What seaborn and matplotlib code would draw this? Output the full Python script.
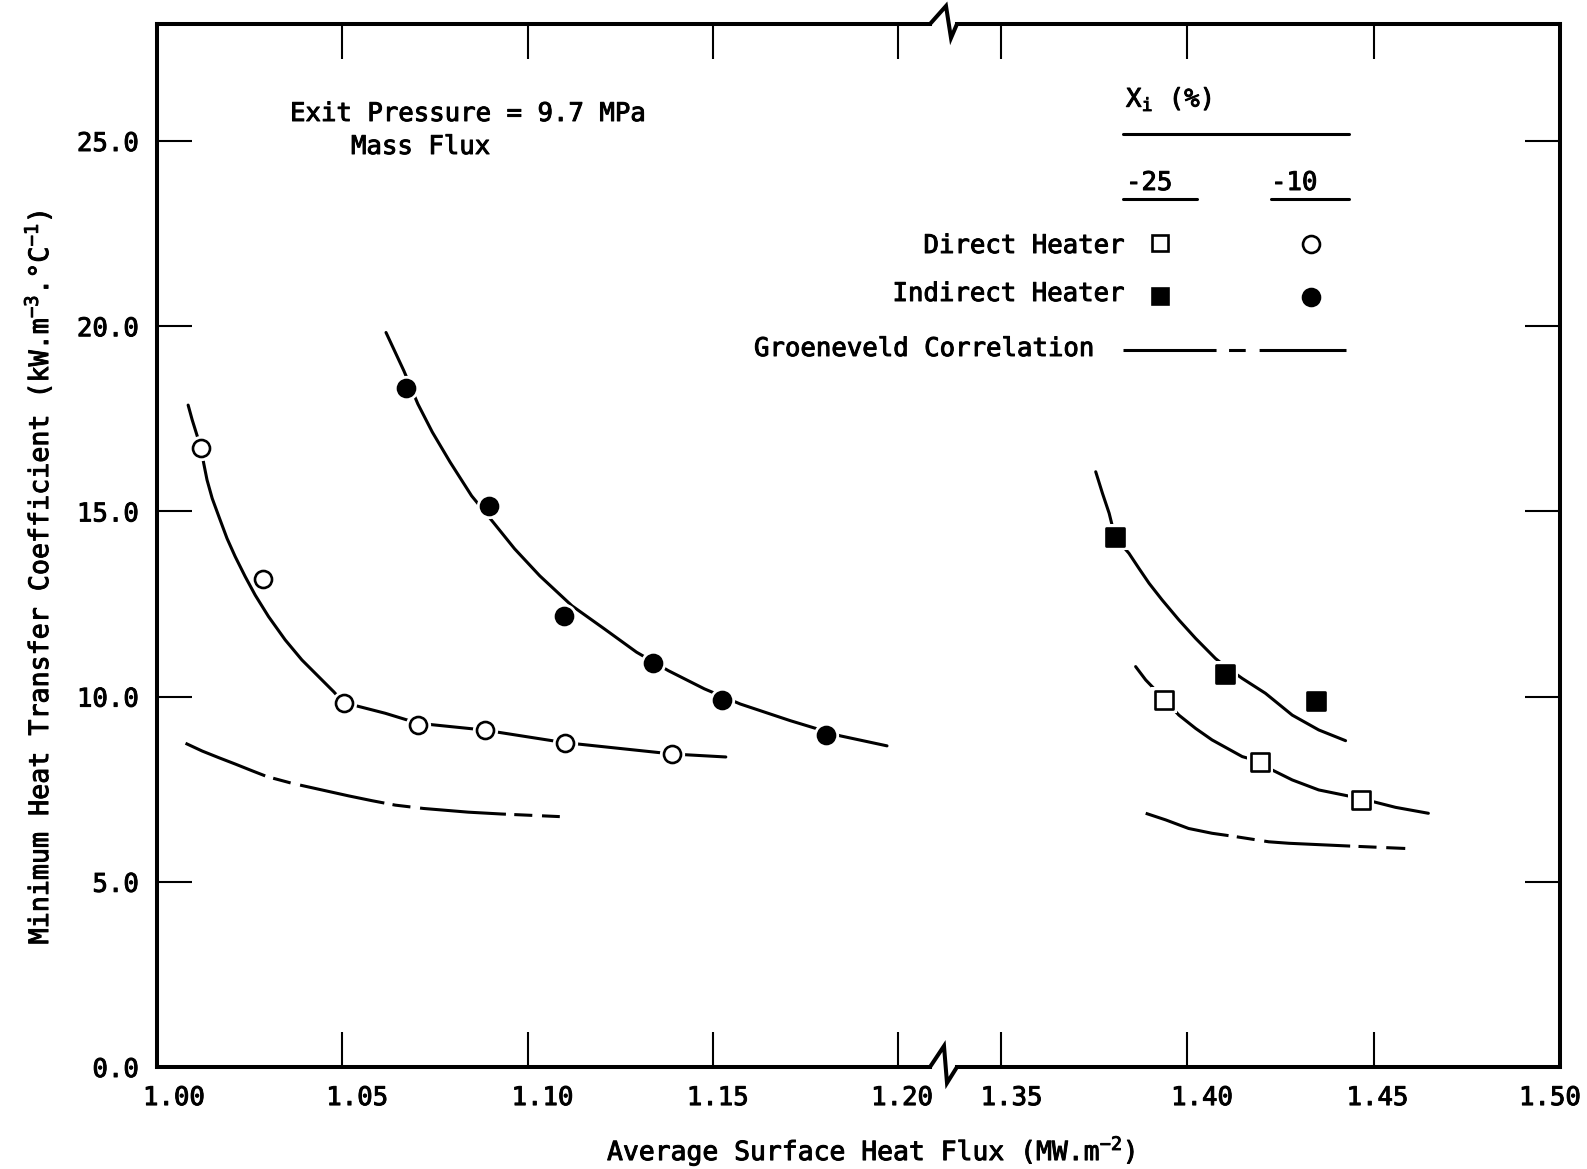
import matplotlib
matplotlib.use("Agg")
import matplotlib.pyplot as plt
import matplotlib.patheffects as pe
import matplotlib.text as mtext
from matplotlib.transforms import ScaledTranslation
import seaborn as sns
from matplotlib.lines import Line2D

# ---------------- data ----------------
# Direct heater, Xi = -10 % (open circles)
direct_m10_x = [1.0120, 1.0286, 1.0505, 1.0704, 1.0884, 1.1102, 1.1391]
direct_m10_y = [16.70, 13.18, 9.82, 9.24, 9.11, 8.75, 8.45]
# Indirect heater, Xi = -10 % (filled circles)
indirect_m10_x = [1.0673, 1.0897, 1.1099, 1.1339, 1.1524, 1.1805]
indirect_m10_y = [18.34, 15.14, 12.17, 10.91, 9.92, 8.97]
# Direct heater, Xi = -25 % (open squares)
direct_m25_x = [1.3938, 1.4195, 1.4467]
direct_m25_y = [9.92, 8.23, 7.22]
# Indirect heater, Xi = -25 % (filled squares)
indirect_m25_x = [1.3808, 1.4103, 1.4347]
indirect_m25_y = [14.30, 10.61, 9.87]

# hand-drawn fitted curves
fit_direct_m10_x = [1.0084, 1.0095, 1.0119, 1.0126, 1.0135, 1.0149, 1.0167, 1.0189,
                    1.0211, 1.0238, 1.0265, 1.0301, 1.0346, 1.0391, 1.0436, 1.0477,
                    1.0503, 1.0616, 1.0704, 1.0881, 1.1098, 1.1391, 1.1535]
fit_direct_m10_y = [17.87, 17.47, 16.70, 16.30, 15.85, 15.35, 14.86, 14.27,
                    13.78, 13.24, 12.74, 12.16, 11.53, 10.99, 10.54, 10.13,
                    9.84, 9.55, 9.28, 9.10, 8.76, 8.45, 8.37]
fit_indirect_m10_x = [1.0618, 1.0666, 1.0704, 1.0743, 1.0791, 1.0849, 1.0907, 1.0965,
                      1.1033, 1.1120, 1.1207, 1.1294, 1.1380, 1.1477, 1.1574, 1.1709,
                      1.1844, 1.1970]
fit_indirect_m10_y = [19.83, 18.80, 17.90, 17.14, 16.33, 15.42, 14.71, 13.99,
                      13.26, 12.45, 11.83, 11.20, 10.70, 10.21, 9.80, 9.35,
                      8.94, 8.67]
fit_indirect_m25_x = [1.3755, 1.3773, 1.3791, 1.3807, 1.3844, 1.3871, 1.3898, 1.3933,
                      1.3978, 1.4023, 1.4076, 1.4103, 1.4148, 1.4210, 1.4282, 1.4353, 1.4425]
fit_indirect_m25_y = [16.07, 15.49, 14.95, 14.30, 13.87, 13.46, 13.06, 12.61,
                      12.07, 11.57, 11.03, 10.81, 10.49, 10.09, 9.50, 9.10, 8.81]
fit_direct_m25_x = [1.3862, 1.3889, 1.3911, 1.3938, 1.3978, 1.4023, 1.4067, 1.4148,
                    1.4197, 1.4228, 1.4282, 1.4353, 1.4465, 1.4559, 1.4647]
fit_direct_m25_y = [10.81, 10.45, 10.22, 9.93, 9.50, 9.14, 8.83, 8.38,
                    8.24, 8.02, 7.75, 7.48, 7.25, 7.01, 6.85]

# Groeneveld correlation
groen_left_x = [1.0077, 1.0122, 1.0167, 1.0211, 1.0256, 1.0297, 1.0364, 1.0454,
                1.0517, 1.0580, 1.0643, 1.0719, 1.0840, 1.0930, 1.1087]
groen_left_y = [8.74, 8.53, 8.35, 8.18, 8.00, 7.84, 7.66, 7.46,
                7.32, 7.19, 7.07, 6.98, 6.88, 6.83, 6.76]
groen_right_x = [1.3889, 1.3943, 1.4004, 1.4067, 1.4130, 1.4219, 1.4273, 1.4425, 1.4585]
groen_right_y = [6.85, 6.67, 6.44, 6.31, 6.22, 6.08, 6.04, 5.97, 5.90]

y_ticks = [0.0, 5.0, 10.0, 15.0, 20.0, 25.0]
y_ticklabels = ["0.0", "5.0", "10.0", "15.0", "20.0", "25.0"]
x_ticks_left = [1.00, 1.05, 1.10, 1.15, 1.20]
x_ticklabels_left = ["1.00", "1.05", "1.10", "1.15", "1.20"]
x_ticks_right = [1.35, 1.40, 1.45, 1.50]
x_ticklabels_right = ["1.35", "1.40", "1.45", "1.50"]

# typed-label nudges (pixels), as in the typewritten original
x_label_nudge_left = [17, 15, 15, 5, 4]
x_label_nudge_right = [11, 15, 4, -10]

# ---------------- style ----------------
sns.set_style("white")
plt.rcParams["font.family"] = ["DejaVu Sans Mono", "DejaVu Sans"]
plt.rcParams["mathtext.fontset"] = "custom"
plt.rcParams["mathtext.rm"] = "DejaVu Sans Mono"
plt.rcParams["mathtext.it"] = "DejaVu Sans Mono"
plt.rcParams["mathtext.bf"] = "DejaVu Sans Mono:bold"
plt.rcParams["lines.scale_dashes"] = False
for k in ("text.color", "axes.labelcolor", "xtick.color", "ytick.color"):
    plt.rcParams[k] = "black"

FS = 18.5
W, H = 1587, 1169
fig = plt.figure(figsize=(W / 100, H / 100), dpi=100)


def fx(px):
    return px / W


def fy(py):
    return 1 - py / H


L, BRK_L, BRK_R, R = 157, 930, 957, 1560
TOP, BOT = 24, 1067
ax1 = fig.add_axes([fx(L), fy(BOT), fx(BRK_L - L), (BOT - TOP) / H])
ax2 = fig.add_axes([fx(BRK_R), fy(BOT), fx(R - BRK_R), (BOT - TOP) / H], sharey=ax1)

ymax = (BOT - TOP) / 37.04
ax1.set_xlim(1.0, 1.2086)
ax2.set_xlim(1.3383, 1.50)
ax1.set_ylim(0, ymax)

LW = 2.2
SPINE = 2.9
DASH = (0, (62, 6, 13, 7))

for ax in (ax1, ax2):
    for s in ax.spines.values():
        s.set_linewidth(SPINE)
        s.set_color("black")
    ax.tick_params(direction="in", length=25, width=1.5, color="black",
                   labelcolor="black", labelsize=FS, top=True, bottom=True, pad=13)
    ax.grid(False)
    ax.set_facecolor("white")

ax1.spines["right"].set_visible(False)
ax2.spines["left"].set_visible(False)
ax1.tick_params(axis="y", left=True, right=False)
ax2.tick_params(axis="y", left=False, right=True, labelleft=False, labelright=False)
ax1.set_yticks(y_ticks)
ax1.set_yticklabels(y_ticklabels)
ax1.set_xticks(x_ticks_left)
ax1.set_xticklabels(x_ticklabels_left)
ax2.set_xticks(x_ticks_right)
ax2.set_xticklabels(x_ticklabels_right)


def curve(ax, x, y, ls="-"):
    sns.lineplot(x=x, y=y, ax=ax, color="black", linewidth=LW, linestyle=ls,
                 estimator=None, sort=False, zorder=2)


def points(ax, x, y, marker, filled):
    sns.scatterplot(x=x, y=y, ax=ax, marker=marker, s=330, color="white",
                    linewidth=0, zorder=3)
    sns.scatterplot(x=x, y=y, ax=ax, marker=marker, s=150,
                    color="black" if filled else "white", edgecolor="black",
                    linewidth=1.9, zorder=4)


curve(ax1, fit_direct_m10_x, fit_direct_m10_y)
curve(ax1, fit_indirect_m10_x, fit_indirect_m10_y)
curve(ax1, groen_left_x, groen_left_y, DASH)
points(ax1, direct_m10_x, direct_m10_y, "o", False)
points(ax1, indirect_m10_x, indirect_m10_y, "o", True)

curve(ax2, fit_indirect_m25_x, fit_indirect_m25_y)
curve(ax2, fit_direct_m25_x, fit_direct_m25_y)
curve(ax2, groen_right_x, groen_right_y, DASH)
points(ax2, direct_m25_x, direct_m25_y, "s", False)
points(ax2, indirect_m25_x, indirect_m25_y, "s", True)

for ax in (ax1, ax2):
    ax.set_xlabel("")
    ax.set_ylabel("")
    if ax.get_legend() is not None:
        ax.get_legend().remove()

# nudge the typed x tick labels
for ax, nudges in ((ax1, x_label_nudge_left), (ax2, x_label_nudge_right)):
    for lab, dx in zip(ax.get_xticklabels(), nudges):
        lab.set_transform(lab.get_transform() + ScaledTranslation(dx / 100, 0, fig.dpi_scale_trans))

# ---------------- axis breaks ----------------
for base, pts in ((BOT, [(BRK_L, 0), (944, -21), (947, 16), (BRK_R, 0)]),
                  (TOP, [(BRK_L, 0), (946, -18), (951, 14), (BRK_R, 0)])):
    fig.add_artist(Line2D([fx(p[0]) for p in pts], [fy(base + p[1]) for p in pts],
                          transform=fig.transFigure, color="black",
                          linewidth=SPINE, solid_joinstyle="miter"))

# ---------------- labels ----------------
fig.text(fx(38), fy(578), r"Minimum Heat Transfer Coefficient (kW.m$^{-3}$.°C$^{-1}$)",
         rotation=90, ha="center", va="center", fontsize=19.2)
fig.text(fx(871), fy(1151), r"Average Surface Heat Flux (MW.m$^{-2}$)",
         ha="center", va="center", fontsize=19.0)

fig.text(fx(290), fy(114), "Exit Pressure = 9.7 MPa", ha="left", va="center", fontsize=FS)
fig.text(fx(351), fy(147), "Mass Flux", ha="left", va="center", fontsize=FS)

# ---------------- legend (hand-built like the original) ----------------
fig.text(fx(1126), fy(99), r"X$_{\mathregular{i}}$ (%)", ha="left", va="center", fontsize=FS)
fig.add_artist(Line2D([fx(1123), fx(1349)], [fy(134), fy(134)], color="black",
                      linewidth=2.2, transform=fig.transFigure))
fig.text(fx(1126), fy(183), "-25", ha="left", va="center", fontsize=FS)
fig.text(fx(1271), fy(183), "-10", ha="left", va="center", fontsize=FS)
fig.add_artist(Line2D([fx(1123), fx(1197)], [fy(199), fy(199)], color="black",
                      linewidth=2.2, transform=fig.transFigure))
fig.add_artist(Line2D([fx(1271), fx(1349)], [fy(199), fy(199)], color="black",
                      linewidth=2.2, transform=fig.transFigure))

fig.text(fx(1125), fy(246), "Direct Heater", ha="right", va="center", fontsize=FS)
fig.text(fx(1125), fy(294), "Indirect Heater", ha="right", va="center", fontsize=FS)
fig.text(fx(1095), fy(349), "Groeneveld Correlation", ha="right", va="center", fontsize=FS)

legend_marks = [(1160, 243, "s", "white"), (1311, 244, "o", "white"),
                (1160, 296, "s", "black"), (1311, 297, "o", "black")]
for px_, py_, m, fc in legend_marks:
    fig.add_artist(Line2D([fx(px_)], [fy(py_)], transform=fig.transFigure, marker=m,
                          markersize=12.2, markerfacecolor=fc, markeredgecolor="black",
                          markeredgewidth=1.9, linestyle="none"))
fig.add_artist(Line2D([fx(1123), fx(1346)], [fy(350), fy(350)], color="black",
                      linewidth=LW, linestyle=(0, (67, 9, 12, 10)),
                      transform=fig.transFigure))

# slightly heavier typewriter strokes
for t in fig.findobj(mtext.Text):
    t.set_path_effects([pe.withStroke(linewidth=0.7, foreground="black")])

fig.savefig("out.png", dpi=100, facecolor="white")
